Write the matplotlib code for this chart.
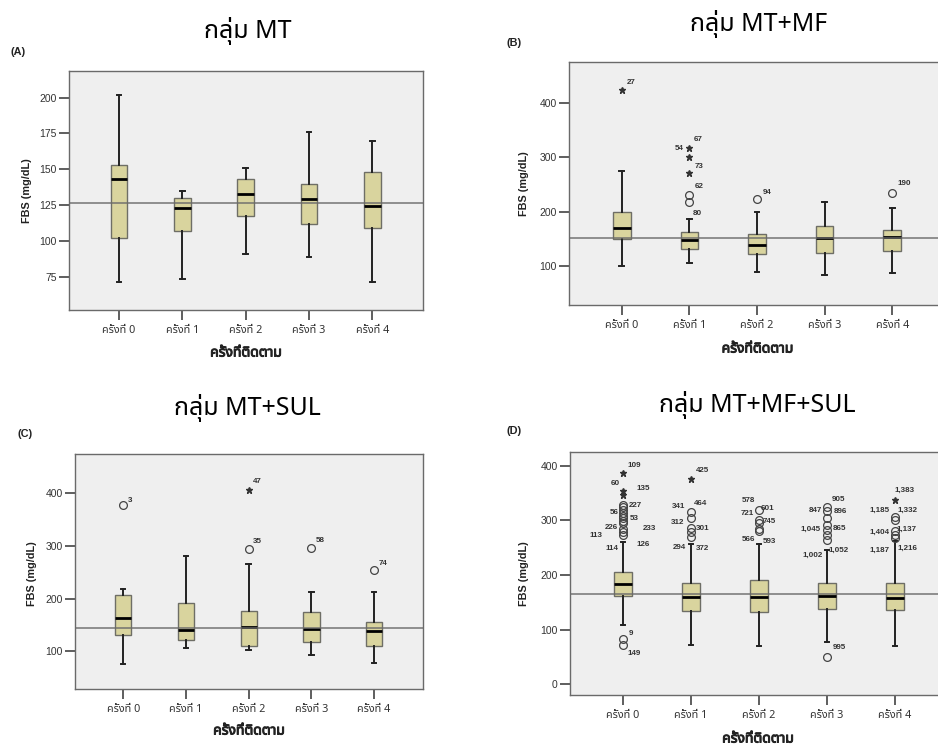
import matplotlib
matplotlib.use("Agg")
import matplotlib.pyplot as plt
from matplotlib import font_manager as fm
from matplotlib.ft2font import FT2Font
import matplotlib.patheffects as pe

# ---------------- data ----------------
visits = ["ครั้งที่ 0", "ครั้งที่ 1", "ครั้งที่ 2", "ครั้งที่ 3", "ครั้งที่ 4"]
titles = ["กลุ่ม MT", "กลุ่ม MT+MF", "กลุ่ม MT+SUL", "กลุ่ม MT+MF+SUL"]
panel_tags = ["(A)", "(B)", "(C)", "(D)"]
x_title = "ครั้งที่ติดตาม"
y_title = "FBS (mg/dL)"

# Panel A (MT)
A_whislo = [71, 73, 91, 89, 71]
A_q1 = [102, 107, 117, 112, 109]
A_med = [143, 123, 133, 129, 124]
A_q3 = [153, 130, 143, 140, 148]
A_whishi = [202, 135, 151, 176, 170]
A_ref = 126.5
A_yticks = [75, 100, 125, 150, 175, 200]
A_out_box, A_out_val, A_out_kind = [], [], []
A_lab_text, A_lab_box, A_lab_val = [], [], []

# Panel B (MT+MF)
B_whislo = [100, 105, 89, 83, 87]
B_q1 = [149, 131, 122, 123, 127]
B_med = [169, 148, 138, 151, 154]
B_q3 = [199, 162, 159, 174, 167]
B_whishi = [274, 186, 200, 217, 206]
B_ref = 152
B_yticks = [100, 200, 300, 400]
B_out_box = [0, 1, 1, 1, 1, 1, 2, 4]
B_out_val = [423, 317, 300, 270, 231, 217, 223, 235]
B_out_kind = ["*", "*", "*", "*", "o", "o", "o", "o"]
B_lab_text = ["27", "67", "54", "73", "62", "80", "94", "190"]
B_lab_box = [0, 1, 1, 1, 1, 1, 2, 4]
B_lab_val = [423, 317, 317, 270, 231, 217, 223, 235]

# Panel C (MT+SUL)
C_whislo = [76, 107, 102, 94, 79]
C_q1 = [131, 122, 111, 118, 111]
C_med = [164, 141, 147, 142, 139]
C_q3 = [206, 191, 177, 175, 155]
C_whishi = [218, 281, 265, 212, 212]
C_ref = 143.5
C_yticks = [100, 200, 300, 400]
C_out_box = [0, 2, 2, 3, 4]
C_out_val = [377, 406, 294, 296, 254]
C_out_kind = ["o", "*", "o", "o", "o"]
C_lab_text = ["3", "47", "35", "58", "74"]
C_lab_box = [0, 2, 2, 3, 4]
C_lab_val = [377, 406, 294, 296, 254]

# Panel D (MT+MF+SUL)
D_whislo = [108, 72, 69, 78, 70]
D_q1 = [162, 134, 133, 138, 136]
D_med = [184, 160, 160, 161, 158]
D_q3 = [205, 186, 191, 185, 186]
D_whishi = [260, 257, 257, 246, 262]
D_ref = 165
D_yticks = [0, 100, 200, 300, 400]
D_out_box = ([0] * 3 + [0] * 11 + [0] * 2
             + [1] + [1] * 5
             + [2] * 5
             + [3] * 7 + [3]
             + [4] + [4] * 5)
D_out_val = ([387, 354, 346]
             + [329, 324, 319, 314, 309, 304, 299, 295, 284, 279, 274]
             + [82, 72]
             + [377] + [316, 305, 286, 279, 269]
             + [320, 301, 295, 285, 280]
             + [324, 318, 304, 291, 282, 273, 265] + [50]
             + [337] + [307, 301, 280, 273, 267])
D_out_kind = (["*"] * 3 + ["o"] * 11 + ["o"] * 2
              + ["*"] + ["o"] * 5
              + ["o"] * 5
              + ["o"] * 7 + ["o"]
              + ["*"] + ["o"] * 5)
D_lab_text = ["109", "60", "135", "227", "56", "53", "226", "233", "113", "126", "114", "9", "149",
              "425", "341", "464", "312", "301", "294", "372",
              "578", "601", "721", "745", "566", "593",
              "905", "847", "896", "1,045", "865", "1,002", "1,052", "995",
              "1,383", "1,185", "1,332", "1,404", "1,137", "1,187", "1,216"]
D_lab_box = [0] * 13 + [1] * 7 + [2] * 6 + [3] * 8 + [4] * 7
D_lab_val = [387, 354, 346, 329, 314, 304, 284, 284, 274, 274, 274, 82, 72,
             377, 316, 316, 305, 286, 269, 269,
             320, 320, 320, 301, 280, 280,
             324, 318, 318, 291, 291, 265, 265, 50,
             337, 307, 307, 280, 280, 267, 267]

# ---------------- styles / layout ----------------
# label offsets in pixels (dx right, dy down) from the anchored point
B_lab_off = [(9, -8), (9, -8), (-10, 1), (10, -7), (10, -8), (8, 11), (10, -7), (12, -9)]
C_lab_off = [(7, -5), (9, -8), (9, -7), (9, -7), (9, -7)]
D_lab_off = [(11, -8), (-8, -8), (20, -7), (12, 1), (-9, 0), (11, 0), (-12, -2), (26, -1),
             (-27, 1), (20, 10), (-11, 14), (8, -6), (11, 9),
             (11, -8), (-12, -5), (9, -8), (-13, 5), (12, 0), (-12, 10), (11, 11),
             (-11, -9), (9, -1), (-12, 4), (10, 2), (-11, 8), (10, 10),
             (12, -8), (-12, 0), (13, 1), (-16, 4), (13, 3), (-14, 16), (12, 11), (12, -9),
             (10, -10), (-15, -6), (13, -6), (-15, 1), (12, -2), (-15, 12), (13, 10)]

# axes rectangles in pixels: left, top, right, bottom
W, H = 938, 747
rects = [(69, 71, 423, 310), (569, 62, 945, 305), (75, 454, 423, 689), (570, 452, 948, 695)]
ylims = [(51.7, 218.6), (28.2, 475), (28.9, 473.7), (-20, 425.6)]
xlims = [(-0.79, 4.8), (-0.78, 4.78), (-0.77, 4.78), (-0.78, 4.78)]
title_pos = [(248, 38), (759, 31.5), (247.5, 415), (757.5, 412)]
tag_pos = [(10, 55), (506, 45.5), (17, 437.5), (506, 434)]
ylab_pos = [(26.7, 190.8), (524, 184), (32, 573.5), (524, 573.5)]
xlab_pos = [(246, 353), (757.5, 349), (249, 731), (758, 739)]

# ---------------- fonts ----------------
pref = ["Noto Sans Thai", "Noto Sans Thai UI", "Tahoma", "Leelawadee UI", "Loma", "Garuda",
        "Sarabun", "Umpush", "Waree", "Kinnari", "Norasi", "Noto Looped Thai", "Noto Serif Thai"]
thai = []
for f in fm.fontManager.ttflist:
    try:
        if 0x0E01 in FT2Font(f.fname).get_charmap():
            thai.append(f.name)
    except Exception:
        pass
thai_font = None
for p in pref:
    if p in thai:
        thai_font = p
        break
if thai_font is None and thai:
    thai_font = thai[0]
THAI = ([thai_font] if thai_font else []) + ["DejaVu Sans"]
LATIN = ["Liberation Sans", "DejaVu Sans"]
plt.rcParams["font.family"] = THAI

BOX_FILL = "#d9d49e"
BOX_EDGE = "#6e6e66"
AX_BG = "#efefef"
TXT = "#222222"

fig = plt.figure(figsize=(W / 100, H / 100), dpi=100)
fig.patch.set_facecolor("white")

panels = [
    (A_whislo, A_q1, A_med, A_q3, A_whishi, A_ref, A_yticks, A_out_box, A_out_val, A_out_kind,
     A_lab_text, A_lab_box, A_lab_val, []),
    (B_whislo, B_q1, B_med, B_q3, B_whishi, B_ref, B_yticks, B_out_box, B_out_val, B_out_kind,
     B_lab_text, B_lab_box, B_lab_val, B_lab_off),
    (C_whislo, C_q1, C_med, C_q3, C_whishi, C_ref, C_yticks, C_out_box, C_out_val, C_out_kind,
     C_lab_text, C_lab_box, C_lab_val, C_lab_off),
    (D_whislo, D_q1, D_med, D_q3, D_whishi, D_ref, D_yticks, D_out_box, D_out_val, D_out_kind,
     D_lab_text, D_lab_box, D_lab_val, D_lab_off),
]


def fx(px):
    return px / W


def fy(py):
    return 1 - py / H


for i, (wl, q1, med, q3, wh, ref, yt, ob, ov, ok, lt, lb, lv, loff) in enumerate(panels):
    l, t, r, b = rects[i]
    ax = fig.add_axes([fx(l), fy(b), (r - l) / W, (b - t) / H])
    ax.set_facecolor(AX_BG)
    stats = [dict(med=med[k], q1=q1[k], q3=q3[k], whislo=wl[k], whishi=wh[k], fliers=[])
             for k in range(len(visits))]
    ax.bxp(stats, positions=list(range(len(visits))), widths=0.26, patch_artist=True,
           showfliers=False, capwidths=0.07,
           boxprops=dict(facecolor=BOX_FILL, edgecolor=BOX_EDGE, linewidth=1.0),
           medianprops=dict(color="black", linewidth=2.0),
           whiskerprops=dict(color="#222222", linewidth=1.4),
           capprops=dict(color="#222222", linewidth=1.4))
    ax.axhline(ref, color="#6a6a6a", linewidth=1.2, alpha=0.85, zorder=5)

    for kind in ("o", "*"):
        xs = [ob[k] for k in range(len(ov)) if ok[k] == kind]
        ys = [ov[k] for k in range(len(ov)) if ok[k] == kind]
        if not xs:
            continue
        if kind == "o":
            ax.plot(xs, ys, "o", markersize=5.6, markerfacecolor="none",
                    markeredgecolor="#444444", markeredgewidth=0.9, zorder=6, clip_on=False)
        else:
            ax.plot(xs, ys, "*", markersize=5.0, color="#333333", zorder=6, clip_on=False)

    for k, txt in enumerate(lt):
        dx, dy = loff[k]
        ax.annotate(txt, (lb[k], lv[k]), xytext=(dx, -dy), textcoords="offset pixels",
                    ha="center", va="center", fontsize=5.8, color="#333333",
                    family=LATIN, fontweight="bold", zorder=7)

    ax.set_xlim(*xlims[i])
    ax.set_ylim(*ylims[i])
    ax.set_xticks(range(len(visits)))
    ax.set_xticklabels(visits, fontsize=7.8)
    ax.set_yticks(yt)
    ax.set_yticklabels([str(v) for v in yt], fontsize=7.5, family=LATIN)
    ax.tick_params(axis="both", direction="out", length=7.5, width=1.1, color="#333333",
                   labelcolor="#333333")
    ax.tick_params(axis="x", pad=3.5)
    ax.tick_params(axis="y", pad=1.5)
    for s in ax.spines.values():
        s.set_color("#6a6a6a")
        s.set_linewidth(1.0)

    fig.text(fx(title_pos[i][0]), fy(title_pos[i][1]), titles[i], ha="center", va="baseline",
             fontsize=18, color="black")
    fig.text(fx(tag_pos[i][0]), fy(tag_pos[i][1]), panel_tags[i], ha="left", va="baseline",
             fontsize=7.8, fontweight="bold", color=TXT, family=LATIN)
    fig.text(fx(ylab_pos[i][0]), fy(ylab_pos[i][1]), y_title, ha="center", va="center",
             rotation=90, fontsize=7.8, fontweight="bold", color=TXT, family=LATIN)
    fig.text(fx(xlab_pos[i][0]), fy(xlab_pos[i][1]), x_title, ha="center", va="center",
             fontsize=10, fontweight="bold", color=TXT,
             path_effects=[pe.withStroke(linewidth=0.7, foreground=TXT)])

fig.savefig("out.png", dpi=100)
